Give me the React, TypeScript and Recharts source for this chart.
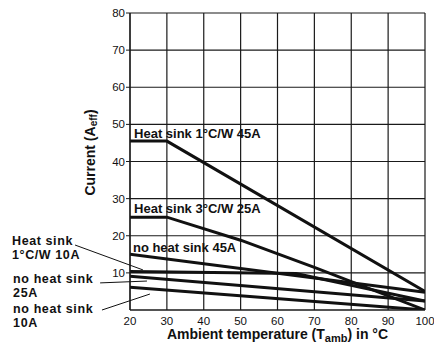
import {
  LineChart,
  Line,
  XAxis,
  YAxis,
  CartesianGrid,
  ReferenceDot,
  ReferenceLine,
} from 'recharts'

// derating curves (t = ambient °C, i = current A)
const heatSink1C45A = [
  { t: 20, i: 45.5 },
  { t: 30, i: 45.5 },
  { t: 100, i: 5 },
]
const heatSink3C25A = [
  { t: 20, i: 25 },
  { t: 30, i: 25 },
  { t: 50, i: 18.8 },
  { t: 70, i: 11.5 },
  { t: 100, i: 0 },
]
const noHeatSink45A = [
  { t: 20, i: 15 },
  { t: 100, i: 4.8 },
]
const heatSink1C10A = [
  { t: 20, i: 10.4 },
  { t: 65, i: 9.8 },
  { t: 100, i: 2.4 },
]
const noHeatSink25A = [
  { t: 20, i: 9.1 },
  { t: 100, i: 2.4 },
]
const noHeatSink10A = [
  { t: 20, i: 6.1 },
  { t: 100, i: 0 },
]

const xTicks = [20, 30, 40, 50, 60, 70, 80, 90, 100]
const yTicks = [10, 20, 30, 40, 50, 60, 70, 80]

// labels inside the plot: [text, t, i]
const innerLabels: [string, number, number][] = [
  ['Heat sink 1°C/W 45A', 21.1, 46.2],
  ['Heat sink 3°C/W 25A', 21.1, 26.1],
  ['no heat sink 45A', 20.8, 15.6],
]

// labels left of the plot, two lines each, with leader lines into the plot
const sideLabels: [string, string, number, number][] = [
  ['Heat sink', '1°C/W 10A', -12, 17.5],
  ['no heat sink', '25A', -11.7, 7.3],
  ['no heat sink', '10A', -11.7, -0.8],
]
const leaders: [number, number, number, number][] = [
  [5.1, 17.5, 23.5, 10.8],
  [11.9, 7.3, 24.6, 7.8],
  [12.4, 0, 25.4, 4.3],
]

const FONT = '"Liberation Sans", Arial, Helvetica, sans-serif'
const INK = '#111'

const series = [heatSink1C45A, heatSink3C25A, noHeatSink45A, heatSink1C10A, noHeatSink25A, noHeatSink10A]

function YLabel(props: any) {
  const { x, y, height } = props.viewBox
  const cx = x + 90
  const cy = y + height / 2 - 9
  return (
    <text
      x={cx}
      y={cy}
      transform={`rotate(-90 ${cx} ${cy})`}
      textAnchor="middle"
      dominantBaseline="central"
      fontFamily={FONT}
      fontWeight="bold"
      fontSize={14}
      fill={INK}
    >
      Current (A
      <tspan dy={3} fontSize={10}>eff</tspan>
      <tspan dy={-3}>)</tspan>
    </text>
  )
}

function XLabel(props: any) {
  const { x, y, width } = props.viewBox
  return (
    <text
      x={x + width / 2}
      y={y + 29}
      textAnchor="middle"
      fontFamily={FONT}
      fontWeight="bold"
      fontSize={14}
      fill={INK}
    >
      Ambient temperature (T
      <tspan dy={3} fontSize={11}>amb</tspan>
      <tspan dy={-3}>) in °C</tspan>
    </text>
  )
}

export default function App() {
  return (
    <div style={{ position: 'absolute', left: 0, top: 0, width: 434, height: 349, background: '#fff', fontFamily: FONT }}>
      <LineChart width={434} height={349} margin={{ top: 13, right: 9, left: 0, bottom: 0 }}>
        <CartesianGrid stroke="#1a1a1a" strokeWidth={1.2} />
        <XAxis
          type="number"
          dataKey="t"
          domain={[20, 100]}
          ticks={xTicks}
          allowDataOverflow
          tickLine={false}
          tickSize={5}
          axisLine={{ stroke: '#1a1a1a', strokeWidth: 1.2 }}
          tick={{ fontSize: 11.5, fill: INK, fontFamily: FONT }}
          height={39}
          label={<XLabel />}
        />
        <YAxis
          type="number"
          dataKey="i"
          domain={[0, 80]}
          ticks={yTicks}
          allowDataOverflow
          width={130}
          tickSize={4}
          tickMargin={1}
          tickLine={{ stroke: '#1a1a1a' }}
          axisLine={{ stroke: '#1a1a1a', strokeWidth: 1.2 }}
          tick={{ fontSize: 11.5, fill: INK, fontFamily: FONT }}
          label={<YLabel />}
        />
        {series.map((d, k) => (
          <Line
            key={k}
            data={d}
            dataKey="i"
            type="linear"
            stroke={INK}
            strokeWidth={3}
            dot={false}
            isAnimationActive={false}
          />
        ))}
        {innerLabels.map(([text, t, i]) => (
          <ReferenceDot
            key={text}
            x={t}
            y={i}
            ifOverflow="visible"
            shape={(p: any) => (
              <text x={p.cx} y={p.cy} fontFamily={FONT} fontWeight="bold" fontSize={13} fill={INK}>
                {text}
              </text>
            )}
          />
        ))}
        {leaders.map(([t1, i1, t2, i2], k) => (
          <ReferenceLine
            key={'l' + k}
            segment={[
              { x: t1, y: i1 },
              { x: t2, y: i2 },
            ]}
            ifOverflow="visible"
            stroke={INK}
            strokeWidth={1}
          />
        ))}
        {sideLabels.map(([a, b, t, i], k) => (
          <ReferenceDot
            key={'s' + k}
            x={t}
            y={i}
            ifOverflow="visible"
            shape={(p: any) => (
              <text
                x={p.cx}
                y={p.cy}
                fontFamily={FONT}
                fontWeight="bold"
                fontSize={12.5}
                letterSpacing={0.6}
                fill={INK}
              >
                {a}
                <tspan x={p.cx} dy={14}>{b}</tspan>
              </text>
            )}
          />
        ))}
      </LineChart>
    </div>
  )
}
